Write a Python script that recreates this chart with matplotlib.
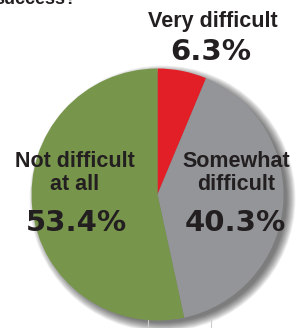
import matplotlib
matplotlib.use("Agg")
import matplotlib.pyplot as plt
from matplotlib.patches import Circle

categories = ["Very difficult", "Somewhat\ndifficult", "Not difficult\nat all"]
values = [6.3, 40.3, 53.4]
value_labels = ["6.3%", "40.3%", "53.4%"]
colors = ["#e21f26", "#939598", "#77964b"]

W, H = 296, 328
fig = plt.figure(figsize=(W / 100, H / 100), dpi=100)
ax = fig.add_axes([0, 0, 1, 1])

cx, cy, r = 157.5, H - 194.5, 126

# soft shadow
for i in range(12):
    ax.add_patch(Circle((cx + 5, cy - 4), r + 7 - i * 0.8, color="#000000",
                        alpha=0.055, lw=0, zorder=0))

# faint background lines at bottom
ax.plot([148, 148], [0, 8], color="#cccccc", lw=0.8, zorder=0)
ax.plot([211, 211], [0, 8], color="#cccccc", lw=0.8, zorder=0)

ax.pie(values, colors=colors, startangle=90, counterclock=False,
       center=(cx, cy), radius=r, frame=True,
       wedgeprops=dict(linewidth=0))
ax.set_xlim(0, W)
ax.set_ylim(0, H)
ax.set_aspect("equal")
ax.axis("off")

lab_font = dict(family="Liberation Sans", weight="bold", color="#231f20")
num_font = dict(family="DejaVu Sans", weight="heavy", color="#231f20")

# cut-off text at top (as in the reference)
ax.text(-6, H - 4, "success?", fontsize=13, ha="left", va="baseline", **lab_font)

ax.text(213, H - 22, categories[0], fontsize=15.5, ha="center", va="center", **lab_font)
ax.text(211, H - 52, value_labels[0], fontsize=21, ha="center", va="center", **num_font)

ax.text(236, H - 173, categories[1], fontsize=15.5, ha="center", va="center",
        linespacing=1.1, **lab_font)
ax.text(235, H - 223, value_labels[1], fontsize=21, ha="center", va="center", **num_font)

ax.text(75, H - 173, categories[2], fontsize=15.5, ha="center", va="center",
        linespacing=1.1, **lab_font)
ax.text(76, H - 223, value_labels[2], fontsize=21, ha="center", va="center", **num_font)

fig.savefig("out.png", dpi=100)
